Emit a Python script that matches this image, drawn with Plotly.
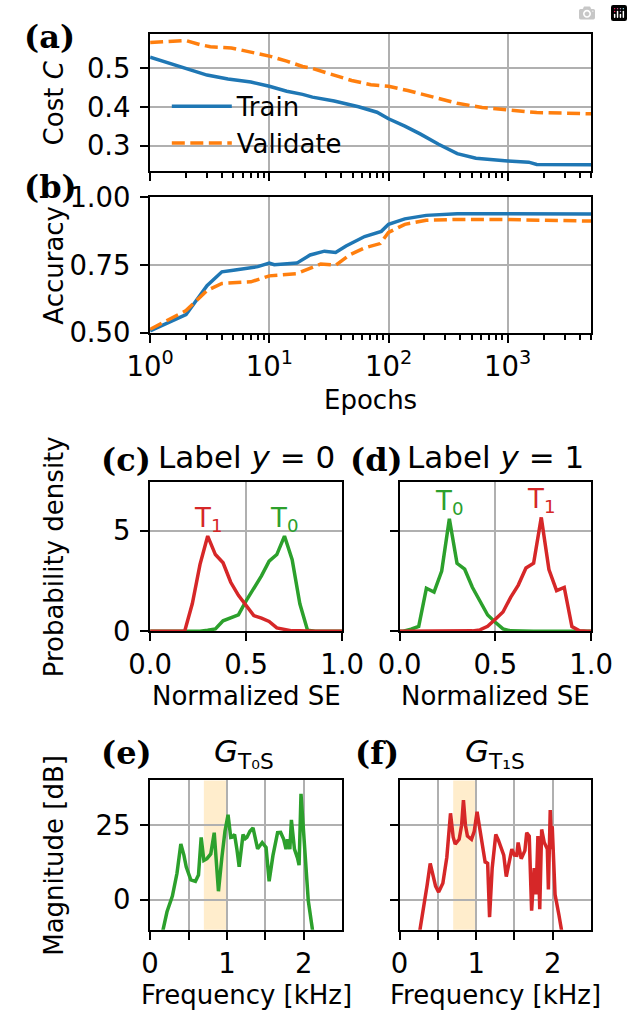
import plotly.graph_objects as go

W, H = 633, 1030

# ---------------- data ----------------
# (a) cost vs epochs
epochs_cost_train = [1, 2, 3, 4.5, 7, 10, 14, 19, 23, 35, 56, 80, 100, 137, 184, 263, 377, 541, 822, 1000, 1500, 1750, 5000]
cost_train = [0.529, 0.499, 0.483, 0.473, 0.465, 0.454, 0.441, 0.433, 0.426, 0.416, 0.401, 0.387, 0.370, 0.351,
              0.331, 0.304, 0.280, 0.268, 0.262, 0.261, 0.258, 0.252, 0.251]
epochs_cost_val = [1, 2, 2.6, 3.2, 4.8, 6.9, 10, 14, 19, 23, 34.5, 49, 71, 100, 145, 234, 377, 610, 822, 1000, 1750, 5000]
cost_val = [0.567, 0.572, 0.562, 0.556, 0.553, 0.542, 0.532, 0.519, 0.505, 0.500, 0.483, 0.469, 0.458, 0.454,
            0.443, 0.427, 0.410, 0.399, 0.395, 0.394, 0.386, 0.383]

# (b) accuracy vs epochs
epochs_acc_train = [1, 2, 3, 4, 5, 7, 8, 10, 11, 17, 22, 29, 36, 44, 63, 87, 100, 137, 207, 377, 822, 5000]
acc_train = [0.507, 0.567, 0.674, 0.725, 0.731, 0.742, 0.744, 0.757, 0.751, 0.757, 0.787, 0.801, 0.796, 0.820,
             0.855, 0.874, 0.900, 0.920, 0.933, 0.939, 0.939, 0.938]
epochs_acc_val = [1, 2, 3, 4, 7, 10, 17, 19, 23, 27, 36, 47, 63, 85, 100, 137, 207, 377, 822, 5000]
acc_val = [0.513, 0.582, 0.656, 0.682, 0.688, 0.710, 0.718, 0.727, 0.739, 0.754, 0.749, 0.787, 0.813, 0.829,
           0.870, 0.900, 0.915, 0.918, 0.918, 0.912]

epoch_tickvals = [1, 10, 100, 1000]
epoch_ticktext = ["10<sup>0</sup>", "10<sup>1</sup>", "10<sup>2</sup>", "10<sup>3</sup>"]
epoch_minor = [2, 3, 4, 5, 6, 7, 8, 9, 20, 30, 40, 50, 60, 70, 80, 90,
               200, 300, 400, 500, 600, 700, 800, 900, 2000, 3000, 4000, 5000]

# (c),(d) probability densities over normalized SE
se_x = [0.0, 0.02, 0.06, 0.10, 0.14, 0.18, 0.22, 0.26, 0.30, 0.34, 0.38, 0.42, 0.46, 0.50,
        0.54, 0.58, 0.62, 0.66, 0.70, 0.74, 0.78, 0.82, 0.86, 0.90, 0.94, 0.98, 1.0]
c_T1 = [0, 0, 0, 0, 0, 0, 1.38, 3.33, 4.74, 3.82, 3.41, 2.44, 1.79, 1.30,
        0.78, 0.65, 0.49, 0.17, 0.08, 0.02, 0.03, 0, 0, 0, 0, 0, 0]
c_T0 = [0, 0, 0, 0, 0, 0, 0.03, 0, 0.05, 0.12, 0.52, 0.65, 0.82, 1.51,
        2.11, 2.76, 3.49, 3.82, 4.74, 3.56, 1.37, 0.05, 0, 0, 0, 0, 0]
d_T0 = [0, 0, 0.10, 0.24, 2.14, 1.95, 3.00, 5.60, 3.38, 3.09, 2.19, 1.54, 0.81, 0.45,
        0.12, 0.02, 0, 0, 0, 0, 0, 0, 0, 0, 0, 0, 0]
d_T1 = [0, 0, 0, 0, 0, 0, 0, 0, 0, 0, 0.02, 0.07, 0.25, 0.60,
        0.96, 1.69, 2.30, 3.15, 3.39, 5.67, 3.07, 2.02, 2.18, 0.23, 0.02, 0, 0]

# (e),(f) frequency responses
freq_e = [0.16, 0.22, 0.29, 0.35, 0.40, 0.44, 0.47, 0.53, 0.59, 0.63, 0.665, 0.70, 0.74, 0.79, 0.835,
          0.86, 0.89, 0.935, 0.975, 1.015, 1.05, 1.07, 1.10, 1.13, 1.16, 1.21, 1.24, 1.26, 1.30, 1.34,
          1.40, 1.46, 1.51, 1.55, 1.60, 1.66, 1.70, 1.74, 1.77, 1.79, 1.82, 1.84, 1.88, 1.92, 1.94,
          1.965, 2.0, 2.06, 2.12]
mag_e = [-11, -4, 1.3, 8.9, 18.7, 15, 11.1, 6.7, 6.2, 8.3, 20.9, 13.2, 13.8, 15.4, 22.5,
         12, 2.9, 14.3, 23.0, 28.5, 20.9, 21, 21.9, 17, 11.1, 21.9, 20.5, 20.9, 23.0, 24.1,
         17.1, 19.2, 17.6, 6.2, 14.9, 22.5, 22.6, 20.3, 17, 20.3, 17, 26.8, 17.0, 14, 11.6,
         35.5, 21.4, -0.3, -11]
freq_f = [0.26, 0.32, 0.36, 0.40, 0.44, 0.47, 0.51, 0.565, 0.617, 0.645, 0.665, 0.70, 0.726, 0.778,
          0.81, 0.834, 0.86, 0.886, 0.939, 0.975, 1.012, 1.04, 1.068, 1.117, 1.135, 1.15, 1.16, 1.175,
          1.209, 1.256, 1.29, 1.32, 1.36, 1.393, 1.43, 1.466, 1.50, 1.53, 1.548, 1.588, 1.636, 1.66,
          1.693, 1.724, 1.758, 1.782, 1.806, 1.83, 1.855, 1.889, 1.929, 1.943, 1.967, 1.988, 1.993,
          2.03, 2.08, 2.12]
mag_f = [-11, -2, 5, 12.2, 7, 4.6, 2.6, 5.6, 14.3, 22, 29.0, 21, 18.7, 20.3,
         25, 33.4, 25, 21.4, 20.3, 23, 29.5, 25, 20.9, 12.7, 12.5, 12.2, 5, -5.8,
         10.6, 21.9, 20, 18.1, 15, 7.8, 13, 17, 15, 14.9, 19.2, 13.8, 16.5, 22.5,
         21.4, -3.6, 10.6, 1.8, 21.4, -3.1, 23.6, 19.2, 17, 3.5, 30.1, 17, 24.6,
         1.8, -5, -11]
band_khz = [0.7, 1.0]

# ---------------- style ----------------
BLUE, ORANGE, GREEN, RED = "#1f77b4", "#ff7f0e", "#2ca02c", "#d62728"
FONT = "DejaVu Sans"
SERIF = "DejaVu Serif"
FS = 26        # axis labels / legend
TFS = 27.5     # tick labels
TITLE = 31     # panel titles
PL = 32        # panel letters
LW = 3.5
DASH = "13px,5.5px"


def px(x):
    return x / W


def py(y):
    return 1 - y / H


# panel pixel boxes
XL, XR = 136, 611.5
XR_C, XL_D = 343, 405
dom_x_ab = [px(XL), px(XR)]
dom_x_ce = [px(XL), px(XR_C)]
dom_x_df = [px(XL_D), px(XR)]
dom_y_a = [py(160), py(19)]
dom_y_b = [py(327), py(187)]
dom_y_cd = [py(635), py(481)]
dom_y_ef = [py(943), py(789)]

fig = go.Figure()

# (a)
fig.add_trace(go.Scatter(x=epochs_cost_train, y=cost_train, mode="lines", name="Train",
                         line=dict(color=BLUE, width=LW), xaxis="x", yaxis="y"))
fig.add_trace(go.Scatter(x=epochs_cost_val, y=cost_val, mode="lines", name="Validate",
                         line=dict(color=ORANGE, width=LW, dash=DASH), xaxis="x", yaxis="y"))
# (b)
fig.add_trace(go.Scatter(x=epochs_acc_train, y=acc_train, mode="lines", showlegend=False,
                         line=dict(color=BLUE, width=LW), xaxis="x2", yaxis="y2"))
fig.add_trace(go.Scatter(x=epochs_acc_val, y=acc_val, mode="lines", showlegend=False,
                         line=dict(color=ORANGE, width=LW, dash=DASH), xaxis="x2", yaxis="y2"))
# (c)
fig.add_trace(go.Scatter(x=se_x, y=c_T0, mode="lines", showlegend=False,
                         line=dict(color=GREEN, width=LW), xaxis="x3", yaxis="y3"))
fig.add_trace(go.Scatter(x=se_x, y=c_T1, mode="lines", showlegend=False,
                         line=dict(color=RED, width=LW), xaxis="x3", yaxis="y3"))
# (d)
fig.add_trace(go.Scatter(x=se_x, y=d_T0, mode="lines", showlegend=False,
                         line=dict(color=GREEN, width=LW), xaxis="x4", yaxis="y4"))
fig.add_trace(go.Scatter(x=se_x, y=d_T1, mode="lines", showlegend=False,
                         line=dict(color=RED, width=LW), xaxis="x4", yaxis="y4"))
# (e),(f)
fig.add_trace(go.Scatter(x=freq_e, y=mag_e, mode="lines", showlegend=False,
                         line=dict(color=GREEN, width=LW), xaxis="x5", yaxis="y5"))
fig.add_trace(go.Scatter(x=freq_f, y=mag_f, mode="lines", showlegend=False,
                         line=dict(color=RED, width=LW), xaxis="x6", yaxis="y6"))

common = dict(showline=True, mirror=True, linecolor="black", linewidth=2,
              ticks="outside", ticklen=8, tickwidth=2, tickcolor="black",
              showgrid=True, gridcolor="#b0b0b0", gridwidth=1.6, zeroline=False,
              tickfont=dict(size=TFS, family=FONT, color="black"), fixedrange=True)

log_minor = dict(tickvals=epoch_minor, ticks="outside", ticklen=5, tickwidth=1.5,
                 tickcolor="black", showgrid=False)

fig.update_layout(
    xaxis=dict(common, domain=dom_x_ab, anchor="y", type="log", range=[0, 3.699],
               tickmode="array", tickvals=epoch_tickvals, showticklabels=False, minor=log_minor),
    yaxis=dict(common, domain=dom_y_a, anchor="x", range=[0.235, 0.588],
               tickmode="array", tickvals=[0.3, 0.4, 0.5], ticktext=["0.3", "0.4", "0.5"],
               ticklabelstandoff=4),
    xaxis2=dict(common, domain=dom_x_ab, anchor="y2", type="log", range=[0, 3.699],
                tickmode="array", tickvals=epoch_tickvals, ticktext=epoch_ticktext, minor=log_minor),
    yaxis2=dict(common, domain=dom_y_b, anchor="x2", range=[0.5, 1.0],
                tickmode="array", tickvals=[0.5, 0.75, 1.0], ticktext=["0.50", "0.75", "1.00"],
                ticklabelstandoff=4),
    xaxis3=dict(common, domain=dom_x_ce, anchor="y3", range=[0, 1],
                tickmode="array", tickvals=[0, 0.5, 1.0], ticktext=["0.0", "0.5", "1.0"]),
    yaxis3=dict(common, domain=dom_y_cd, anchor="x3", range=[0, 7.43],
                tickmode="array", tickvals=[0, 5], ticktext=["0", "5"], ticklabelstandoff=4),
    xaxis4=dict(common, domain=dom_x_df, anchor="y4", range=[0, 1],
                tickmode="array", tickvals=[0, 0.5, 1.0], ticktext=["0.0", "0.5", "1.0"]),
    yaxis4=dict(common, domain=dom_y_cd, anchor="x4", range=[0, 7.43],
                tickmode="array", tickvals=[0, 5], showticklabels=False),
    xaxis5=dict(common, domain=dom_x_ce, anchor="y5", range=[0, 2.5],
                tickmode="array", tickvals=[0, 0.5, 1, 1.5, 2], ticktext=["0", "", "1", "", "2"]),
    yaxis5=dict(common, domain=dom_y_ef, anchor="x5", range=[-10, 40],
                tickmode="array", tickvals=[0, 25], ticktext=["0", "25"], ticklabelstandoff=4),
    xaxis6=dict(common, domain=dom_x_df, anchor="y6", range=[0, 2.5],
                tickmode="array", tickvals=[0, 0.5, 1, 1.5, 2], ticktext=["0", "", "1", "", "2"]),
    yaxis6=dict(common, domain=dom_y_ef, anchor="x6", range=[-10, 40],
                tickmode="array", tickvals=[0, 25], showticklabels=False),
)

# shaded frequency band
for xr, yr in (("x5", "y5"), ("x6", "y6")):
    fig.add_shape(type="rect", xref=xr, yref=yr + " domain", x0=band_khz[0], x1=band_khz[1],
                  y0=0, y1=1, fillcolor="rgba(255,165,0,0.2)", line=dict(width=0), layer="below")

ann = []


def text(x, y, s, size=FS, family=FONT, angle=0, color="black", xanchor="center", yanchor="middle"):
    ann.append(dict(x=px(x), y=py(y), xref="paper", yref="paper", text=s, showarrow=False,
                    font=dict(size=size, family=family, color=color), textangle=angle,
                    xanchor=xanchor, yanchor=yanchor))


# panel letters
text(28, 22, "<b>(a)</b>", PL, SERIF)
text(29, 176, "<b>(b)</b>", PL, SERIF)
text(110, 458, "<b>(c)</b>", PL, SERIF)
text(380, 458, "<b>(d)</b>", PL, SERIF)
text(111, 761, "<b>(e)</b>", PL, SERIF)
text(381, 761, "<b>(f)</b>", PL, SERIF)

# titles
text((XL + XR_C) / 2, 455, "Label <i>y</i> = 0", TITLE)
text((XL_D + XR) / 2, 455, "Label <i>y</i> = 1", TITLE)
text((XL + XR_C) / 2 - 2, 761, "<i>G</i><sub>T₀S</sub>", TITLE)
text((XL_D + XR) / 2, 761, "<i>G</i><sub>T₁S</sub>", TITLE)

# axis titles
text(32, 89.5, "Cost <i>C</i>", FS, angle=-90)
text(32, 257, "Accuracy", FS, angle=-90)
text(32, 558, "Probability density", FS, angle=-90)
text(32, 866, "Magnitude [dB]", FS, angle=-90)
text((XL + XR) / 2, 396, "Epochs", FS)
text((XL + XR_C) / 2, 702, "Normalized SE", FS)
text((XL_D + XR) / 2, 702, "Normalized SE", FS)
text((XL + XR_C) / 2, 1010, "Frequency [kHz]", FS)
text((XL_D + XR) / 2, 1010, "Frequency [kHz]", FS)

# curve labels just above their peaks
for xr, yr, ys, col, lab in (("x3", "y3", c_T1, RED, "T<sub>1</sub>"), ("x3", "y3", c_T0, GREEN, "T<sub>0</sub>"),
                             ("x4", "y4", d_T0, GREEN, "T<sub>0</sub>"), ("x4", "y4", d_T1, RED, "T<sub>1</sub>")):
    k = ys.index(max(ys))
    ann.append(dict(x=se_x[k], y=ys[k], xref=xr, yref=yr, text=lab, showarrow=False,
                    font=dict(size=FS, family=FONT, color=col), xanchor="center", yanchor="bottom",
                    yshift=-2))

fig.update_layout(
    annotations=ann,
    width=W, height=H, margin=dict(l=0, r=0, t=0, b=0),
    paper_bgcolor="white", plot_bgcolor="white",
    font=dict(family=FONT, size=FS, color="black"),
    showlegend=True,
    legend=dict(x=px(154), y=py(69), xanchor="left", yanchor="top", bgcolor="rgba(0,0,0,0)",
                font=dict(size=FS, family=FONT, color="black"), itemwidth=60, tracegroupgap=0),
)

fig.write_html("out.html", post_script="document.body.style.margin='0px';")
